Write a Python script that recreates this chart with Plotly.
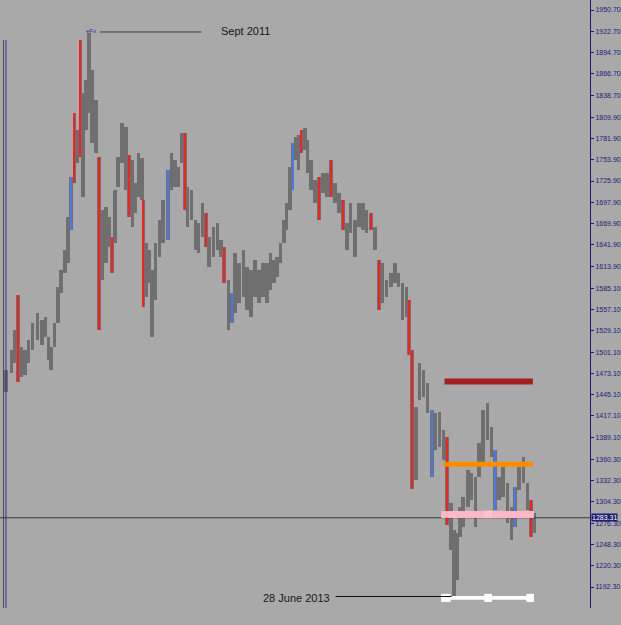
import pandas as pd
import plotly.graph_objects as go

# ---------------- data ----------------
base_date = pd.Timestamp("2011-09-06")  # Sept 2011 top

# days relative to base_date for each (weekly-ish) price bar
day_offset = [-150, -140, -133, -128, -122, -115, -109, -102, -93, -85,
              -78, -73, -68, -62, -56, -50, -43, -37, -32, -26,
              -21, -15, -10, -5, 1, 6, 13, 19, 24, 31,
              37, 42, 48, 53, 60, 67, 73, 79, 84, 90,
              96, 99, 104, 109, 115, 121, 128, 135, 143, 150,
              156, 162, 169, 174, 179, 186, 193, 199, 206, 212,
              218, 226, 233, 239, 245, 253, 259, 265, 272, 280,
              287, 294, 301, 308, 316, 323, 329, 335, 341, 347,
              353, 358, 364, 369, 374, 380, 385, 391, 396, 402,
              410, 417, 424, 431, 438, 446, 453, 460, 467, 474,
              482, 489, 496, 503, 511, 518, 525, 532, 539, 547,
              554, 561, 568, 575, 580, 585, 592, 599, 606, 613,
              621, 628, 635, 642, 649, 656, 661, 667, 672, 678,
              686, 693, 700, 707, 714, 722, 729, 736, 743, 750,
              758, 765, 772, 779, 787, 794, 801, 807]

high = [1477.5, 1503.8, 1530.1, 1576.1, 1507.7, 1503.8, 1516.9, 1539.3, 1552.4, 1543.2,
        1547.2, 1520.9, 1507.7, 1539.3, 1586.6, 1608.9, 1635.2, 1678.6, 1731.2, 1815.3,
        1793.0, 1911.3, 1841.6, 1858.7, 1920.5, 1871.8, 1832.4, 1757.5, 1687.8, 1691.8,
        1678.6, 1652.3, 1714.1, 1757.5, 1802.2, 1796.9, 1760.1, 1753.5, 1723.3, 1762.7,
        1756.2, 1701.0, 1644.5, 1635.2, 1608.9, 1644.5, 1674.7, 1701.0, 1740.4, 1762.7,
        1753.5, 1744.3, 1789.0, 1789.0, 1718.0, 1714.1, 1674.7, 1670.7, 1697.0, 1683.9,
        1652.3, 1665.5, 1670.7, 1648.4, 1639.2, 1595.8, 1578.7, 1631.3, 1618.1, 1635.2,
        1612.9, 1608.9, 1622.1, 1608.9, 1618.1, 1618.1, 1631.3, 1622.1, 1626.0, 1644.5,
        1674.7, 1697.0, 1744.3, 1775.9, 1783.8, 1786.4, 1793.0, 1795.6, 1779.8, 1753.5,
        1727.2, 1731.2, 1736.4, 1736.4, 1753.5, 1723.3, 1710.2, 1701.0, 1670.7, 1697.0,
        1674.7, 1697.0, 1697.0, 1687.8, 1683.9, 1665.5, 1622.1, 1618.1, 1595.8, 1605.0,
        1618.1, 1605.0, 1591.9, 1586.6, 1569.5, 1503.8, 1428.9, 1486.7, 1477.5, 1460.4,
        1424.9, 1421.0, 1422.3, 1398.7, 1389.4, 1302.7, 1267.2, 1263.3, 1297.4, 1310.6,
        1346.1, 1342.1, 1336.9, 1381.5, 1424.9, 1434.1, 1402.6, 1372.4, 1336.9, 1350.0,
        1329.0, 1297.4, 1323.7, 1350.0, 1363.2, 1329.0, 1306.6, 1289.5]

low = [1448.6, 1473.6, 1486.7, 1461.7, 1468.3, 1470.9, 1486.7, 1503.8, 1516.9, 1510.4,
       1520.9, 1490.6, 1477.5, 1507.7, 1539.3, 1578.7, 1605.0, 1618.1, 1661.5, 1723.3,
       1749.6, 1757.5, 1704.9, 1793.0, 1815.3, 1775.9, 1762.7, 1530.1, 1595.8, 1618.1,
       1639.2, 1605.0, 1644.5, 1718.0, 1749.6, 1714.1, 1678.6, 1665.5, 1683.9, 1704.9,
       1701.0, 1560.3, 1573.5, 1591.9, 1520.9, 1569.5, 1626.0, 1644.5, 1648.4, 1714.1,
       1718.0, 1718.0, 1749.6, 1687.8, 1665.5, 1674.7, 1635.2, 1631.3, 1652.3, 1639.2,
       1612.9, 1626.0, 1635.2, 1626.0, 1591.9, 1530.1, 1539.3, 1552.4, 1565.6, 1573.5,
       1556.4, 1547.2, 1573.5, 1565.6, 1573.5, 1565.6, 1582.7, 1591.9, 1599.8, 1618.1,
       1644.5, 1661.5, 1687.8, 1714.1, 1753.5, 1740.4, 1762.7, 1766.7, 1736.4, 1714.1,
       1697.0, 1674.7, 1710.2, 1704.9, 1704.9, 1697.0, 1683.9, 1661.5, 1635.2, 1657.6,
       1626.0, 1665.5, 1661.5, 1657.6, 1661.5, 1635.2, 1556.4, 1565.6, 1573.5, 1586.6,
       1591.9, 1586.6, 1543.2, 1547.2, 1497.2, 1321.1, 1332.9, 1438.1, 1442.0, 1421.0,
       1336.9, 1372.4, 1376.3, 1359.2, 1273.8, 1240.9, 1179.1, 1201.5, 1258.0, 1271.1,
       1297.4, 1306.6, 1271.1, 1336.9, 1355.3, 1385.5, 1363.2, 1293.5, 1306.6, 1310.6,
       1276.4, 1254.1, 1271.1, 1319.8, 1329.0, 1293.5, 1258.0, 1263.3]

# bar numbers (1-based) with strong down / up moves
drop_bars = [4, 20, 22, 28, 32, 37, 42, 54, 60, 65, 87, 92, 95, 98, 105, 107, 115, 116, 125, 147]
rally_bars = [19, 49, 67, 84, 121, 138, 143]

last_price = 1283.31
level_red = 1462.5
level_orange = 1353.5
level_pink = 1287.5
level_white = 1178.0

tick_vals = [1950.70, 1922.70, 1894.70, 1866.70, 1838.70, 1809.90, 1781.90, 1753.90,
             1725.90, 1697.90, 1669.90, 1641.90, 1613.90, 1585.10, 1557.10, 1529.10,
             1501.10, 1473.10, 1445.10, 1417.10, 1389.10, 1360.30, 1332.30, 1304.30,
             1276.30, 1248.30, 1220.30, 1192.30]
tick_text = [f"{v:.2f}" for v in tick_vals]

# ---------------- figure ----------------
DAY_MS = 86400000
dates = base_date + pd.to_timedelta(day_offset, unit="D")
heights = [h - l for h, l in zip(high, low)]


def d(days):
    return base_date + pd.Timedelta(days=days)


def subset(idx_list):
    idx = [i - 1 for i in idx_list]
    return ([dates[i] for i in idx], [heights[i] for i in idx], [low[i] for i in idx])


fig = go.Figure()
fig.add_trace(go.Bar(x=dates, y=heights, base=low, width=6.6 * DAY_MS,
                     marker=dict(color="#6f6f6f", line_width=0), hoverinfo="skip"))
xr, hr, br = subset(drop_bars)
fig.add_trace(go.Bar(x=xr, y=hr, base=br, width=2.0 * DAY_MS,
                     marker=dict(color="#ff1e1e", line_width=0), hoverinfo="skip"))
xb, hb, bb = subset(rally_bars)
fig.add_trace(go.Bar(x=xb, y=hb, base=bb, width=2.0 * DAY_MS,
                     marker=dict(color="#4a78e8", line_width=0), hoverinfo="skip"))

navy = "#1c1c72"
shapes = []
# left vertical separators
shapes.append(dict(type="line", xref="paper", yref="paper", x0=0.0059, x1=0.0059, y0=0, y1=0.934,
                   line=dict(color="#4a4a4a", width=1)))
shapes.append(dict(type="line", xref="paper", yref="paper", x0=0.0101, x1=0.0101, y0=0, y1=0.934,
                   line=dict(color="#2a2aa0", width=1)))
# bid line
shapes.append(dict(type="line", xref="paper", yref="y", x0=0, x1=1, y0=last_price, y1=last_price,
                   line=dict(color="#3a3a3a", width=1)))
# levels
shapes.append(dict(type="rect", xref="x", yref="y", x0=d(644), x1=d(804), y0=level_red - 3.9,
                   y1=level_red + 3.9, fillcolor="#a31f1f", line_width=0, layer="above"))
shapes.append(dict(type="rect", xref="x", yref="y", x0=d(642), x1=d(804), y0=level_orange - 3.3,
                   y1=level_orange + 3.3, fillcolor="#ff8c00", line_width=0, layer="above"))
shapes.append(dict(type="rect", xref="x", yref="y", x0=d(638), x1=d(806), y0=level_pink - 4.6,
                   y1=level_pink + 4.6, fillcolor="#ffb8c6", line_width=0, layer="above"))
shapes.append(dict(type="rect", xref="x", yref="y", x0=d(716), x1=d(730), y0=level_pink - 4.6,
                   y1=level_pink + 5.2, fillcolor="#ffc4cf", line_width=0, layer="above"))
shapes.append(dict(type="rect", xref="x", yref="y", x0=d(638), x1=d(806), y0=level_white - 2.6,
                   y1=level_white + 2.6, fillcolor="#ffffff", line_width=0, layer="above"))
for a, b in [(638, 655), (716, 730), (792, 806)]:
    shapes.append(dict(type="rect", xref="x", yref="y", x0=d(a), x1=d(b), y0=level_white - 5.3,
                       y1=level_white + 5.3, fillcolor="#ffffff", line_width=0, layer="above"))
# trend-line labels
shapes.append(dict(type="line", xref="x", yref="y", x0=d(20), x1=d(204), y0=1921.8, y1=1921.8,
                   line=dict(color="#3c3c3c", width=1)))
shapes.append(dict(type="line", xref="x", yref="y", x0=d(447), x1=d(657), y0=1179.8, y1=1179.8,
                   line=dict(color="#111111", width=1)))

annotations = [
    dict(x=d(283), y=1923.0, xref="x", yref="y", text="Sept 2011", showarrow=False,
         font=dict(family="Liberation Sans, Arial", size=11, color="#151515")),
    dict(x=d(4), y=1922.5, xref="x", yref="y", text="eFx", showarrow=False,
         font=dict(family="Liberation Sans, Arial", size=6, color="#2a2a9a")),
    dict(x=d(376), y=1177.8, xref="x", yref="y", text="28 June 2013", showarrow=False,
         font=dict(family="Liberation Sans, Arial", size=11, color="#151515")),
    dict(x=1.002, y=last_price, xref="paper", yref="y", text=f"{last_price:.2f}", showarrow=False,
         xanchor="left", yanchor="middle", bgcolor=navy, borderpad=0,
         font=dict(family="Liberation Sans Narrow, Arial Narrow, Liberation Sans", size=7, color="#ffffff")),
]

fig.update_layout(
    width=621, height=625,
    margin=dict(l=0, r=29, t=0, b=17),
    paper_bgcolor="#a9a9a9", plot_bgcolor="#a9a9a9",
    barmode="overlay", showlegend=False, bargap=0,
    shapes=shapes, annotations=annotations,
    xaxis=dict(type="date", visible=False, range=[d(-160.6), d(907.4)], fixedrange=True),
    yaxis=dict(side="right", range=[1164.7, 1963.84], showgrid=False, zeroline=False,
               showline=True, linecolor=navy, linewidth=1, ticks="outside", ticklen=3,
               tickcolor=navy, tickvals=tick_vals, ticktext=tick_text,
               tickfont=dict(family="Liberation Sans Narrow, Arial Narrow, Liberation Sans",
                             size=7, color=navy), fixedrange=True),
)

fig.write_html("out.html")
